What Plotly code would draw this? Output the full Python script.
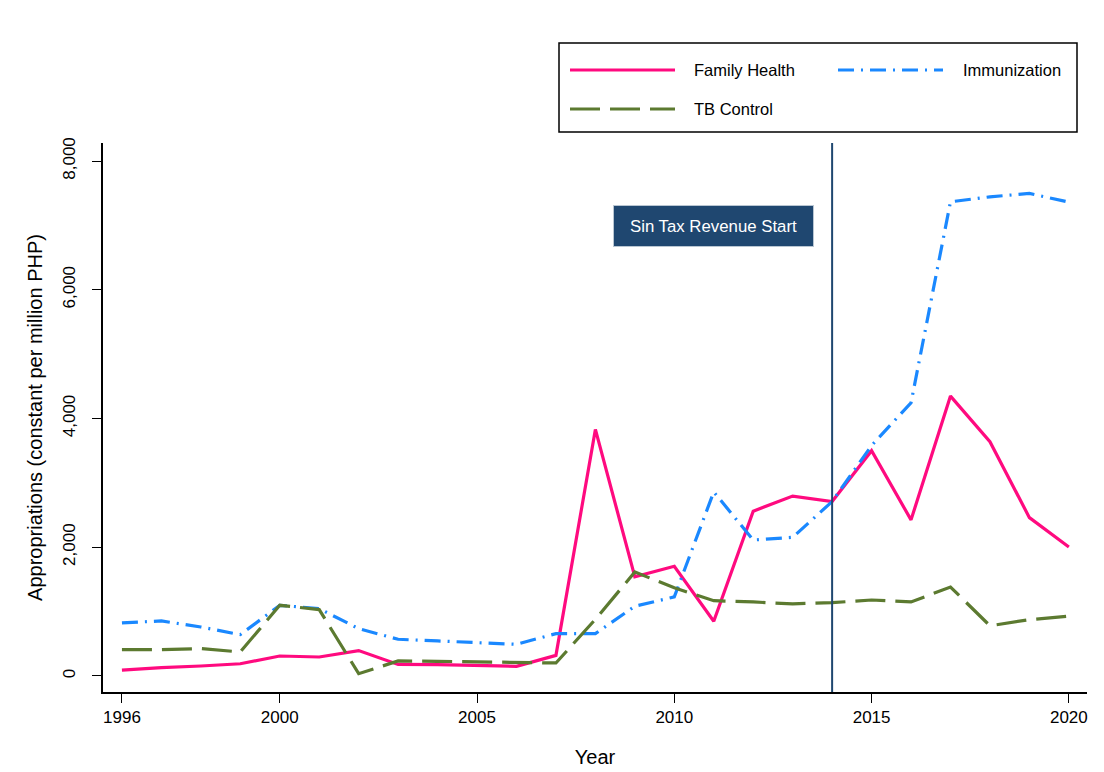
import plotly.graph_objects as go

# ---------------- data ----------------
years = list(range(1996, 2021))
family_health = [90, 130, 155, 190, 310, 295, 394, 180, 175, 165, 150, 320,
                 3830, 1540, 1705, 850, 2560, 2795, 2710, 3500, 2425, 4348,
                 3640, 2460, 2005]
immunization = [824, 855, 761, 642, 1098, 1046, 735, 570, 544, 523, 492, 658,
                658, 1083, 1228, 2860, 2112, 2154, 2710, 3580, 4245, 7366,
                7444, 7496, 7361]
tb_control = [409, 409, 425, 373, 1098, 1031, 36, 233, 228, 218, 207, 202,
              880, 1615, 1370, 1170, 1150, 1120, 1140, 1180, 1150, 1382,
              780, 875, 930]
series_names = ["Family Health", "Immunization", "TB Control"]
x_tickvals = [1996, 2000, 2005, 2010, 2015, 2020]
y_tickvals = [0, 2000, 4000, 6000, 8000]
event_year = 2014
event_label = "Sin Tax Revenue Start"

# ---------------- styling ----------------
FONT = "Liberation Sans, Arial, Helvetica, sans-serif"
C_FH = "#ff0a7f"
C_IM = "#1a88ff"
C_TB = "#5c7a30"
C_NAVY = "#1f4770"
D_IM = "16px,7px,2px,7px"
D_TB = "30px,10px"

OFF = 8  # page body margin
W, H = 1104 - 2 * OFF, 772 - OFF
L, R, T, B = 103 - OFF, 1087 - OFF, 143 - OFF, 692 - OFF


def px_x(p):
    return (p - OFF - L) / (R - L)


def px_y(p):
    return (B - (p - OFF)) / (B - T)


fig = go.Figure()
fig.add_trace(go.Scatter(x=years, y=family_health, mode="lines", name=series_names[0],
                         line=dict(color=C_FH, width=3.2), showlegend=False))
fig.add_trace(go.Scatter(x=years, y=immunization, mode="lines", name=series_names[1],
                         line=dict(color=C_IM, width=3.2, dash=D_IM), showlegend=False))
fig.add_trace(go.Scatter(x=years, y=tb_control, mode="lines", name=series_names[2],
                         line=dict(color=C_TB, width=3.2, dash=D_TB), showlegend=False))

shapes = []
# event line
shapes.append(dict(type="line", xref="x", yref="y domain", x0=event_year, x1=event_year,
                   y0=0, y1=1, line=dict(color=C_NAVY, width=2)))
# legend box
shapes.append(dict(type="rect", xref="paper", yref="paper", x0=px_x(559), x1=px_x(1077),
                   y0=px_y(132), y1=px_y(43), line=dict(color="black", width=1.5),
                   fillcolor="white"))
legend_items = [
    (series_names[0], C_FH, "solid", 570, 675, 692, 70),
    (series_names[1], C_IM, D_IM, 838, 943, 961, 70),
    (series_names[2], C_TB, D_TB, 570, 675, 692, 109),
]
annotations = []
for name, col, dash, sx0, sx1, tx, ty in legend_items:
    shapes.append(dict(type="line", xref="paper", yref="paper", x0=px_x(sx0), x1=px_x(sx1),
                       y0=px_y(ty), y1=px_y(ty), line=dict(color=col, width=3.2, dash=dash)))
    annotations.append(dict(xref="paper", yref="paper", x=px_x(tx), y=px_y(ty), text=name,
                            showarrow=False, xanchor="left", yanchor="middle",
                            font=dict(family=FONT, size=16.5, color="black")))

annotations.append(dict(xref="x", yref="y", x=2011, y=6990, text=event_label,
                        showarrow=False, xanchor="center", yanchor="middle",
                        bgcolor=C_NAVY, bordercolor="#b9c6d2", borderwidth=1,
                        width=195, height=36, borderpad=2,
                        font=dict(family=FONT, size=16.8, color="white")))

fig.update_layout(
    width=W, height=H,
    margin=dict(l=L, r=W - R, t=T, b=H - B, pad=0),
    paper_bgcolor="white", plot_bgcolor="white",
    font=dict(family=FONT, color="black"),
    shapes=shapes, annotations=annotations,
    showlegend=False,
)
fig.update_xaxes(
    range=[1995.52, 2020.46], tickvals=x_tickvals, ticks="outside", ticklen=9,
    tickwidth=1.3, tickcolor="black", showline=True, linecolor="black", linewidth=1.5,
    showgrid=False, zeroline=False, tickfont=dict(size=17, family=FONT), automargin=False,
    title=dict(text="Year", font=dict(size=20, family=FONT), standoff=24),
)
fig.update_yaxes(
    range=[-249, 8280], tickvals=y_tickvals, tickformat=",d", ticks="outside", ticklen=9,
    tickwidth=1.3, tickcolor="black", showline=True, linecolor="black", linewidth=1.5,
    showgrid=False, zeroline=False, tickangle=-90, ticklabelstandoff=10, automargin=False,
    tickfont=dict(size=17, family=FONT),
    title=dict(text="Appropriations (constant per million PHP)",
               font=dict(size=20, family=FONT), standoff=12),
)

fig.write_html("out.html")
